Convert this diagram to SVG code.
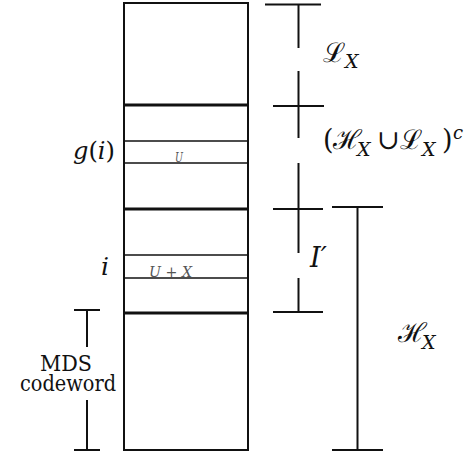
<svg xmlns="http://www.w3.org/2000/svg" width="470" height="455" viewBox="0 0 470 455">
<style>
.ln{stroke:#111;stroke-width:2;fill:none}
.thick{stroke:#111;stroke-width:3}
.thin{stroke:#111;stroke-width:1.6}
.rm{font-family:'DejaVu Serif',serif;fill:#111}
.it{font-family:'DejaVu Serif',serif;font-style:italic;fill:#111}
.cal{font-family:'DejaVu Serif',serif;fill:#111}
.cell{font-family:'DejaVu Serif',serif;font-style:italic;fill:#555}
</style>
<g id="column">
<rect x="124" y="3" width="124" height="447" class="ln"/>
<line x1="124" y1="105" x2="248" y2="105" class="thick"/>
<line x1="124" y1="209" x2="248" y2="209" class="thick"/>
<line x1="124" y1="313" x2="248" y2="313" class="thick"/>
<line x1="124" y1="141" x2="248" y2="141" class="thin"/>
<line x1="124" y1="163" x2="248" y2="163" class="thin"/>
<line x1="124" y1="255" x2="248" y2="255" class="thin"/>
<line x1="124" y1="278" x2="248" y2="278" class="thin"/>
<text x="175" y="162" class="cell" font-size="12" textLength="8" lengthAdjust="spacingAndGlyphs">U</text>
<text x="149" y="277" class="cell" font-size="14" textLength="43" lengthAdjust="spacingAndGlyphs">U + X</text>
</g>
<g id="label-gi">
<text x="73" y="159" class="rm" font-size="25" textLength="42" lengthAdjust="spacingAndGlyphs"><tspan class="it">g</tspan>(<tspan class="it">i</tspan>)</text>
</g>
<g id="label-i">
<text x="101" y="275" class="it" font-size="25">i</text>
</g>
<g id="mds">
<line x1="74" y1="310" x2="100" y2="310" class="ln"/>
<line x1="87" y1="310" x2="87" y2="347" class="ln"/>
<line x1="87" y1="400" x2="87" y2="450" class="ln"/>
<line x1="74" y1="450" x2="100" y2="450" class="ln"/>
<text x="40" y="371" class="rm" font-size="23" textLength="52" lengthAdjust="spacingAndGlyphs">MDS</text>
<text x="20" y="391" class="rm" font-size="23" textLength="96" lengthAdjust="spacingAndGlyphs">codeword</text>
</g>
<g id="brackets">
<line x1="265" y1="4.5" x2="321" y2="4.5" class="ln"/>
<line x1="298.5" y1="4.5" x2="298.5" y2="48" class="ln"/>
<line x1="298.5" y1="71" x2="298.5" y2="138" class="ln"/>
<line x1="273" y1="106" x2="324" y2="106" class="ln"/>
<line x1="298.5" y1="163" x2="298.5" y2="253" class="ln"/>
<line x1="273" y1="209" x2="323" y2="209" class="ln"/>
<line x1="298.5" y1="278" x2="298.5" y2="312" class="ln"/>
<line x1="273" y1="312" x2="323" y2="312" class="ln"/>
<line x1="332" y1="207" x2="383" y2="207" class="ln"/>
<line x1="357.5" y1="207" x2="357.5" y2="450" class="ln"/>
<line x1="332" y1="450" x2="383" y2="450" class="ln"/>
</g>
<g id="label-LX">
<text x="323" y="62" class="cal" font-size="27">ℒ</text>
<text x="345" y="68" class="it" font-size="19">X</text>
</g>
<g id="label-comp">
<text x="323" y="149" class="rm" font-size="27">(</text>
<text x="333" y="149" class="cal" font-size="27">ℋ</text>
<text x="357" y="156" class="it" font-size="19">X</text>
<text x="377" y="149" class="rm" font-size="27">∪</text>
<text x="400" y="149" class="cal" font-size="27">ℒ</text>
<text x="422" y="156" class="it" font-size="19">X</text>
<text x="442" y="149" class="rm" font-size="27">)</text>
<text x="453" y="139" class="it" font-size="18">c</text>
</g>
<g id="label-I">
<text x="310" y="267" class="it" font-size="27">I′</text>
</g>
<g id="label-HX">
<text x="398" y="342" class="cal" font-size="27">ℋ</text>
<text x="422" y="349" class="it" font-size="19">X</text>
</g>
</svg>
